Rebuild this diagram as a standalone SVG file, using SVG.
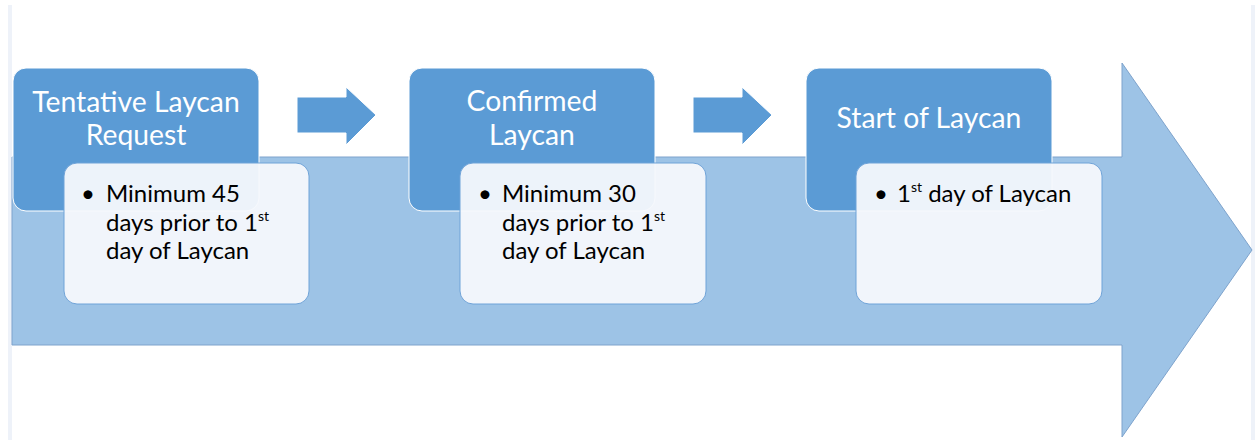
<svg xmlns="http://www.w3.org/2000/svg" width="1255" height="440" viewBox="0 0 1255 440">
<style>
.title{fill:#5b9bd5;stroke:#ffffff;stroke-width:1}
.detail{fill:#f5f8fc;fill-opacity:0.95;stroke:#6fa3d8;stroke-width:1}
.step{fill:#5b9bd5;stroke:#ffffff;stroke-width:1}
.tt{font-family:Lato,"Open Sans",sans-serif;font-size:28.3px;fill:#ffffff;text-anchor:middle}
.dt{font-family:Lato,"Open Sans",sans-serif;font-size:24px;fill:#000000}
.sup{font-size:14px}
</style>
<rect x="0" y="0" width="1255" height="440" fill="#ffffff"/>
<rect x="8" y="5" width="4" height="435" fill="#eef2f9"/>
<rect x="1251" y="5" width="4" height="435" fill="#eef2f9"/>
<g id="backbone">
<path d="M12 157 H1122 V63 L1252 250 L1122 437 V345 H12 Z" fill="#9dc3e6" stroke="#7ea3cc" stroke-width="1"/>
</g>
<g id="node1">
<rect class="title" x="13" y="68" width="246" height="143" rx="13"/>
<rect class="detail" x="64" y="163" width="245" height="141" rx="13"/>
<text class="tt" x="136" y="112">Tentative Laycan</text>
<text class="tt" x="136" y="145">Request</text>
<text class="dt" x="81" y="202">•</text>
<text class="dt" x="106" y="202">Minimum 45</text>
<text class="dt" x="106" y="231">days prior to 1<tspan class="sup" dy="-10">st</tspan></text>
<text class="dt" x="106" y="259">day of Laycan</text>
</g>
<g id="node2">
<rect class="title" x="409" y="68" width="246" height="143" rx="13"/>
<rect class="detail" x="460" y="163" width="246" height="141" rx="13"/>
<text class="tt" x="532" y="111">Confirmed</text>
<text class="tt" x="532" y="145">Laycan</text>
<text class="dt" x="478" y="202">•</text>
<text class="dt" x="502" y="202">Minimum 30</text>
<text class="dt" x="502" y="231">days prior to 1<tspan class="sup" dy="-10">st</tspan></text>
<text class="dt" x="502" y="259">day of Laycan</text>
</g>
<g id="node3">
<rect class="title" x="806" y="68" width="246" height="143" rx="13"/>
<rect class="detail" x="856" y="163" width="246" height="141" rx="13"/>
<text class="tt" x="929" y="128">Start of Laycan</text>
<text class="dt" x="874" y="202">•</text>
<text class="dt" x="897" y="202">1<tspan class="sup" dy="-10">st</tspan><tspan dy="10"> day of Laycan</tspan></text>
</g>
<g id="connectors">
<path class="step" d="M297 97 H346 V87 L376 115 L346 145 V133 H297 Z"/>
<path class="step" d="M693 97 H742 V87 L772 115 L742 145 V133 H693 Z"/>
</g>
</svg>
